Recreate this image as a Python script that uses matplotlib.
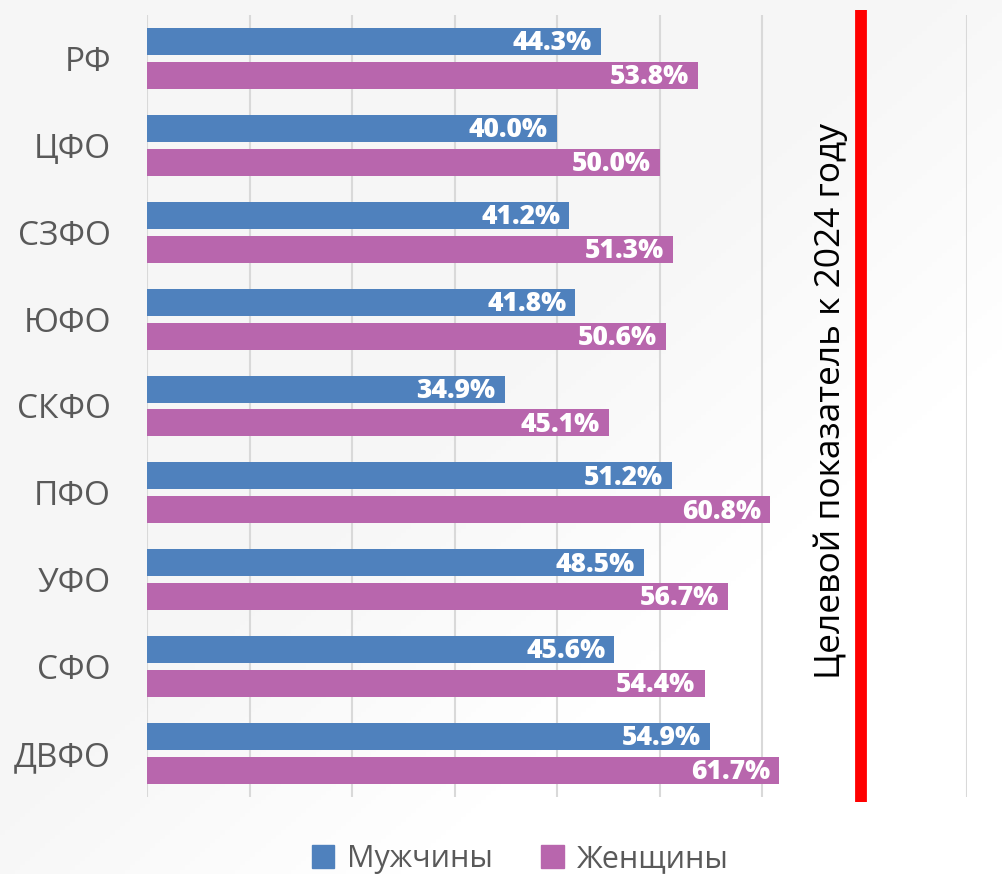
import matplotlib
matplotlib.use("Agg")
import matplotlib.pyplot as plt
import numpy as np
from matplotlib.patches import Patch

categories = ["РФ", "ЦФО", "СЗФО", "ЮФО", "СКФО", "ПФО", "УФО", "СФО", "ДВФО"]
men = [44.3, 40.0, 41.2, 41.8, 34.9, 51.2, 48.5, 45.6, 54.9]
women = [53.8, 50.0, 51.3, 50.6, 45.1, 60.8, 56.7, 54.4, 61.7]
series_names = ["Мужчины", "Женщины"]
target = 69.7
target_label = "Целевой показатель к 2024 году"

plt.rcParams['font.family'] = ['Open Sans', 'DejaVu Sans']

W, H = 1002, 874
fig = plt.figure(figsize=(W / 100, H / 100), dpi=100)

# background gradient
bg = fig.add_axes([0, 0, 1, 1], zorder=-10)
yy, xx = np.mgrid[0:1:200j, 0:1:200j]
t = np.clip((xx + yy - 0.9) / 0.5, 0, 1)
c0 = np.array([0xf6, 0xf6, 0xf6]) / 255
c1 = np.array([1.0, 1.0, 1.0])
img = c0[None, None, :] * (1 - t[..., None]) + c1[None, None, :] * t[..., None]
bg.imshow(img, extent=[0, 1, 0, 1], aspect='auto', origin='upper')
bg.axis('off')

ax = fig.add_axes([147 / W, 1 - 797 / H, (967 - 147) / W, (797 - 15) / H])
ax.set_facecolor('none')

blue = '#4f81bd'
pink = '#b866ad'
y = np.arange(len(categories))
h = 0.31
off = 0.195
ax.barh(y - off, men, height=h, color=blue, zorder=3)
ax.barh(y + off, women, height=h, color=pink, zorder=3)

lab_kw = dict(ha='right', va='center', color='white', fontsize=19, fontweight=800,
              family=['Open Sans', 'DejaVu Sans'], zorder=4)
for i in range(len(categories)):
    ax.text(men[i] - 0.9, y[i] - off + 0.02, f"{men[i]:.1f}%", **lab_kw)
    ax.text(women[i] - 0.9, y[i] + off + 0.02, f"{women[i]:.1f}%", **lab_kw)

ax.set_xlim(0, 80)
ax.set_ylim(len(categories) - 0.5, -0.5)
ax.set_xticks(np.arange(0, 81, 10))
ax.set_xticklabels([])
ax.set_yticks(y)
ax.set_yticklabels(categories, fontsize=24, color='#595959')
ax.tick_params(axis='both', length=0)
ax.tick_params(axis='y', pad=26)
ax.grid(axis='x', color='#d9d9d9', linewidth=1.5, zorder=0)
for s in ax.spines.values():
    s.set_visible(False)

# target line
ax.plot([target, target], [-0.007, 1.0065], color='#ff0000', linewidth=8.5,
        solid_capstyle='butt', transform=ax.get_xaxis_transform(), clip_on=False, zorder=5)

fig.text(831 / W, 1 - 401 / H, target_label, rotation=90, ha='center', va='center',
         fontsize=25.5, color='black')

handles = [Patch(color=blue, label=series_names[0]), Patch(color=pink, label=series_names[1])]
fig.legend(handles=handles, loc='center', bbox_to_anchor=(520 / W, 1 - 859 / H), ncol=2,
           frameon=False, fontsize=22, labelcolor='#595959', handlelength=0.75,
           handleheight=0.75, handletextpad=0.4, columnspacing=1.6)

fig.savefig('out.png', dpi=100)
